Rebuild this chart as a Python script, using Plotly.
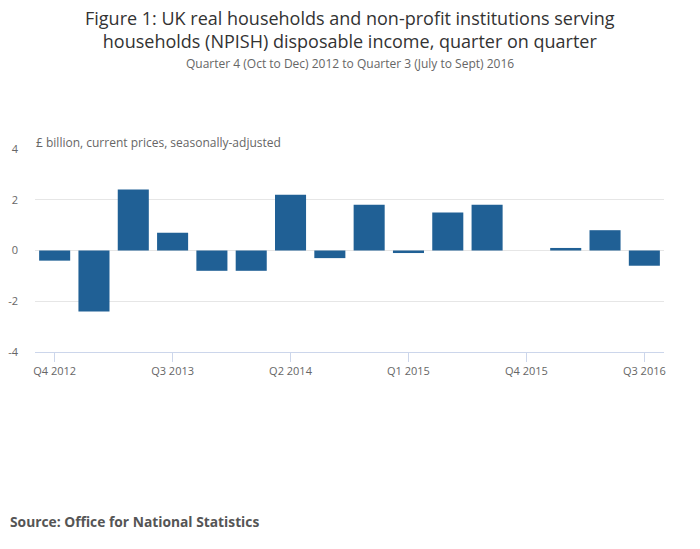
import plotly.graph_objects as go

# Trimestres e variação (£ bilhões)
quarters = [
    "Q4 2012", "Q1 2013", "Q2 2013", "Q3 2013", "Q4 2013", "Q1 2014",
    "Q2 2014", "Q3 2014", "Q4 2014", "Q1 2015", "Q2 2015", "Q3 2015",
    "Q4 2015", "Q1 2016", "Q2 2016", "Q3 2016",
]
values = [-0.4, -2.4, 2.4, 0.7, -0.8, -0.8, 2.2, -0.3,
          1.8, -0.1, 1.5, 1.8, 0.0, 0.1, 0.8, -0.6]
tick_labels = ["Q4 2012", "Q3 2013", "Q2 2014", "Q1 2015", "Q4 2015", "Q3 2016"]
y_ticks = [-4, -2, 0, 2, 4]
y_tick_text = ["-4", "-2", "0", "2", "4"]

FONT = "Open Sans"
GREY = "#666666"

# O body da página tem margem de 8px, então a figura começa em (8, 8)
OFF = 8
W, H = 700 - OFF, 549 - OFF
L, T = 35 - OFF, 149 - OFF
R, B = 36, 549 - 352
PLOT_W = W - L - R
PLOT_H = H - T - B


def py(pix):
    # pixel vertical da janela -> coordenada "paper"
    return (H - B - (pix - OFF)) / PLOT_H


def px_(pix):
    # pixel horizontal da janela -> coordenada "paper"
    return (pix - OFF - L) / PLOT_W


fig = go.Figure(go.Bar(
    x=quarters,
    y=values,
    marker=dict(color="#206095", line=dict(width=0)),
    hovertemplate="%{x}: %{y}<extra></extra>",
))

fig.update_layout(
    width=W,
    height=H,
    paper_bgcolor="white",
    plot_bgcolor="white",
    font=dict(family=FONT, color=GREY),
    margin=dict(l=L, r=R, t=T, b=B),
    bargap=0.21,
    showlegend=False,
)

# Título, subtítulo, rótulo do eixo y e fonte
fig.add_annotation(
    text="Figure 1: UK real households and non-profit institutions serving<br>"
         "households (NPISH) disposable income, quarter on quarter",
    xref="paper", yref="paper", x=px_(350), y=py(29),
    xanchor="center", yanchor="middle", showarrow=False,
    font=dict(family=FONT, size=18, color="#333333"),
)
fig.add_annotation(
    text="Quarter 4 (Oct to Dec) 2012 to Quarter 3 (July to Sept) 2016",
    xref="paper", yref="paper", x=px_(350), y=py(63),
    xanchor="center", yanchor="middle", showarrow=False,
    font=dict(family=FONT, size=12, color=GREY),
)
fig.add_annotation(
    text="£ billion, current prices, seasonally-adjusted",
    xref="paper", yref="paper", x=px_(34), y=py(142),
    xanchor="left", yanchor="middle", showarrow=False,
    font=dict(family=FONT, size=12, color=GREY),
)
fig.add_annotation(
    text="<b>Source: Office for National Statistics</b>",
    xref="paper", yref="paper", x=px_(8), y=py(521),
    xanchor="left", yanchor="middle", showarrow=False,
    font=dict(family=FONT, size=13.8, color="#555555"),
)

fig.update_xaxes(
    type="category",
    tickmode="array",
    tickvals=tick_labels,
    ticktext=tick_labels,
    showline=True,
    linecolor="#ccd6eb",
    linewidth=1,
    ticks="outside",
    ticklen=9,
    tickcolor="#ccd6eb",
    showgrid=False,
    automargin=False,
    tickfont=dict(family=FONT, size=11, color=GREY),
)
fig.update_yaxes(
    range=[-4, 4],
    tickmode="array",
    tickvals=y_ticks,
    ticktext=y_tick_text,
    showgrid=True,
    gridcolor="#e6e6e6",
    zeroline=True,
    zerolinecolor="#e6e6e6",
    zerolinewidth=1,
    ticks="",
    ticklabelstandoff=16,
    automargin=False,
    tickfont=dict(family=FONT, size=11, color=GREY),
)

fig.write_html("out.html")
